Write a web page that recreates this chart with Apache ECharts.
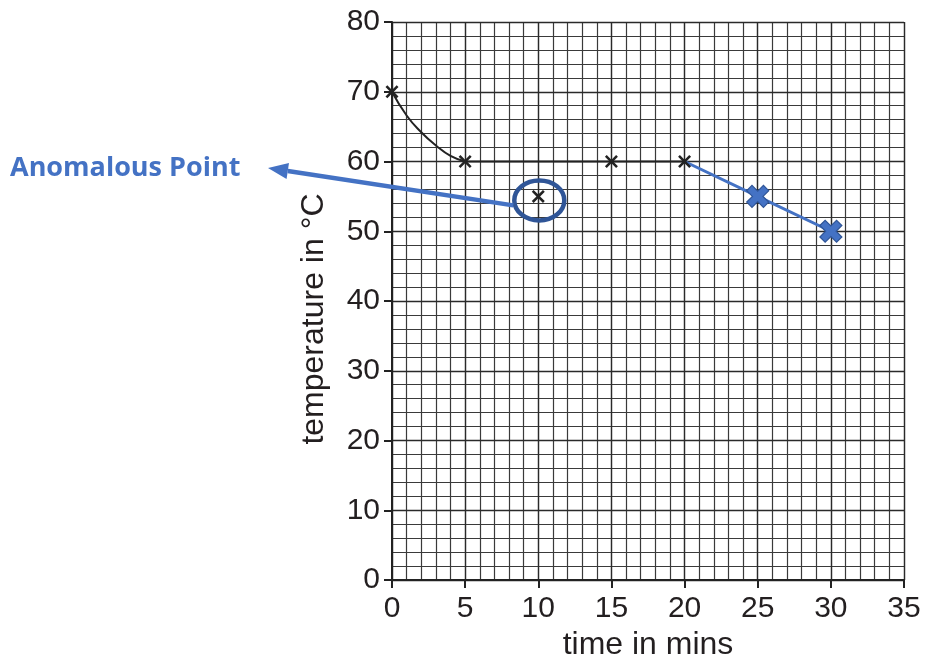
<!DOCTYPE html>
<html>
<head>
<meta charset="utf-8">
<script src="https://cdn.jsdelivr.net/npm/echarts@6/dist/echarts.min.js"></script>
<style>
html,body{margin:0;padding:0;background:#fff;}
#c{width:925px;height:655px;}
</style>
</head>
<body>
<div id="c"></div>
<script>
// Readings (time in mins, temperature in °C)
const readingTimes = [0, 5, 10, 15, 20];
const readingTemps = [70, 60, 55, 60, 60];
// Hand-drawn curve between 0 and 5 mins
const curveTimes = [0, 1, 2, 3, 4, 5];
const curveTemps = [70, 66.6, 64.2, 62.3, 60.8, 60];
// Straight part of the black line
const flatTimes = [5, 15, 20];
const flatTemps = [60, 60, 60];
// Blue extension
const blueTimes = [20, 25, 30];
const blueTemps = [60, 55, 50];
// Anomalous reading
const anomalyTime = 10;
const anomalyTemp = 55;
// Axis ticks
const xTicks = [0, 5, 10, 15, 20, 25, 30, 35];
const yTicks = [0, 10, 20, 30, 40, 50, 60, 70, 80];

const zip = (a, b) => a.map((v, i) => [v, b[i]]);
const thinX = 'path://M0,1.4L1.4,0L5,3.6L8.6,0L10,1.4L6.4,5L10,8.6L8.6,10L5,6.4L1.4,10L0,8.6L3.6,5Z';
const fatX = 'path://M0,2.4L2.4,0L5,2.6L7.6,0L10,2.4L7.4,5L10,7.6L7.6,10L5,7.4L2.4,10L0,7.6L2.6,5Z';

const chart = echarts.init(document.getElementById('c'), null, {renderer: 'canvas'});
const labelFont = {fontFamily: 'Liberation Sans, Arial, sans-serif', fontSize: 30, color: '#231f20'};
const gridLine = {color: '#3a3a3a', width: 1.2};

const xMin = xTicks[0], xMax = xTicks[xTicks.length - 1];
const yMin = yTicks[0], yMax = yTicks[yTicks.length - 1];

chart.setOption({
  animation: false,
  grid: {left: 392, right: 21, top: 22, bottom: 75, containLabel: false, outerBoundsMode: 'none'},
  xAxis: [
    {
      type: 'value', min: xMin, max: xMax, interval: 5,
      name: 'time in mins', nameLocation: 'middle', nameGap: 42,
      nameTextStyle: Object.assign({}, labelFont, {fontSize: 32}),
      axisLine: {show: true, onZero: false, lineStyle: {color: '#222', width: 2}},
      axisTick: {show: true, length: 8, lineStyle: {color: '#222', width: 2}},
      axisLabel: Object.assign({margin: 14}, labelFont),
      splitLine: {show: true, lineStyle: {color: '#2a2a2a', width: 1.3}},
      z: 3
    },
    {
      type: 'value', min: xMin, max: xMax, interval: 1, position: 'top',
      axisLine: {show: false}, axisTick: {show: false}, axisLabel: {show: false},
      splitLine: {show: true, lineStyle: gridLine}
    }
  ],
  yAxis: [
    {
      type: 'value', min: yMin, max: yMax, interval: 10,
      name: 'temperature in °C', nameLocation: 'middle', nameGap: 62,
      nameTextStyle: Object.assign({}, labelFont, {fontSize: 32, padding: [0, 36, 0, 0]}),
      axisLine: {show: true, lineStyle: {color: '#222', width: 2}},
      axisTick: {show: true, length: 8, lineStyle: {color: '#222', width: 2}},
      axisLabel: Object.assign({margin: 12}, labelFont),
      splitLine: {show: true, lineStyle: {color: '#2a2a2a', width: 1.3}},
      z: 3
    },
    {
      type: 'value', min: yMin, max: yMax, interval: 2, position: 'right',
      axisLine: {show: false}, axisTick: {show: false}, axisLabel: {show: false},
      splitLine: {show: true, lineStyle: gridLine}
    }
  ],
  series: [
    {
      type: 'line', data: zip(curveTimes, curveTemps), smooth: true, showSymbol: false,
      lineStyle: {color: '#222', width: 2}, z: 3
    },
    {
      type: 'line', data: zip(flatTimes, flatTemps), showSymbol: false,
      lineStyle: {color: '#222', width: 2}, z: 3
    },
    {
      type: 'line',
      data: zip(blueTimes, blueTemps).map((pt, i) => i === 0 ? {value: pt, symbol: 'none'} : pt),
      symbol: fatX, symbolSize: 22,
      showAllSymbol: true,
      lineStyle: {color: '#4472C4', width: 3},
      itemStyle: {color: '#4472C4', borderColor: '#2F5597', borderWidth: 1.2},
      z: 4
    },
    {
      type: 'scatter', data: zip(readingTimes, readingTemps),
      symbol: thinX, symbolSize: 13,
      itemStyle: {color: '#222', opacity: 1}, z: 5
    }
  ]
});

// Annotation: ellipse around anomalous point and arrow to label
const p = chart.convertToPixel({xAxisIndex: 0, yAxisIndex: 0}, [anomalyTime, anomalyTemp]);
const cx = p[0] + 1, cy = p[1] + 4;
const rx = 25, ry = 20;
const start = [cx - rx - 1, cy + 5];
const tip = [268, 168];
const dx = start[0] - tip[0], dy = start[1] - tip[1];
const len = Math.sqrt(dx * dx + dy * dy);
const ux = dx / len, uy = dy / len;
const headLen = 20, headW = 8;
const base = [tip[0] + ux * headLen, tip[1] + uy * headLen];
chart.setOption({
  graphic: [
    {
      type: 'ellipse', shape: {cx: cx, cy: cy, rx: rx, ry: ry},
      style: {fill: 'none', stroke: '#2F5597', lineWidth: 4.5}, z: 10
    },
    {
      type: 'line', shape: {x1: start[0], y1: start[1], x2: base[0], y2: base[1]},
      style: {stroke: '#4472C4', lineWidth: 4.5}, z: 10
    },
    {
      type: 'polygon',
      shape: {points: [tip, [base[0] - uy * headW, base[1] + ux * headW], [base[0] + uy * headW, base[1] - ux * headW]]},
      style: {fill: '#4472C4'}, z: 10
    },
    {
      type: 'text', x: 10, y: 168,
      style: {text: 'Anomalous Point', fill: '#4472C4', font: 'bold 27px "Open Sans", sans-serif', verticalAlign: 'middle'}, z: 10
    }
  ]
});
</script>
</body>
</html>
